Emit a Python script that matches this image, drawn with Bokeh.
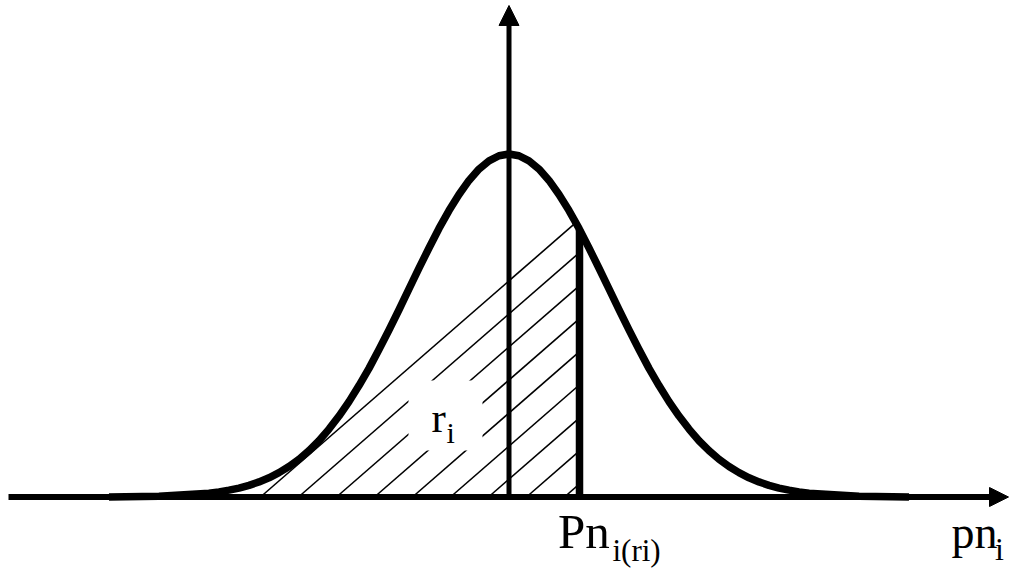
import numpy as np
from bokeh.plotting import figure
from bokeh.models import Range1d, Arrow, NormalHead
from bokeh.core.properties import value
from bokeh.embed import file_html
from bokeh.resources import INLINE

# ---- data (x in sigma units, y relative to peak) ----
curve_x = [-4.0, -3.5, -3.0, -2.9, -2.8, -2.7, -2.6, -2.5, -2.4, -2.3, -2.2, -2.1,
           -2.0, -1.9, -1.8, -1.7, -1.6, -1.5, -1.4, -1.3, -1.2, -1.1, -1.0, -0.9,
           -0.8, -0.7, -0.6, -0.5, -0.4, -0.3, -0.2, -0.1, 0.0,
           0.1, 0.2, 0.3, 0.4, 0.5, 0.6, 0.7, 0.8, 0.9, 1.0, 1.1, 1.2, 1.3, 1.4,
           1.5, 1.6, 1.7, 1.8, 1.9, 2.0, 2.1, 2.2, 2.3, 2.4, 2.5, 2.6, 2.7, 2.8,
           2.9, 3.0, 3.5, 4.0]
curve_y = [0.000, 0.002, 0.011, 0.015, 0.020, 0.026, 0.034, 0.044, 0.056, 0.071, 0.089, 0.110,
           0.135, 0.164, 0.198, 0.236, 0.278, 0.325, 0.375, 0.430, 0.487, 0.546, 0.607, 0.667,
           0.726, 0.783, 0.835, 0.882, 0.923, 0.956, 0.980, 0.995, 1.000,
           0.995, 0.980, 0.956, 0.923, 0.882, 0.835, 0.783, 0.726, 0.667, 0.607, 0.546, 0.487,
           0.430, 0.375, 0.325, 0.278, 0.236, 0.198, 0.164, 0.135, 0.110, 0.089, 0.071, 0.056,
           0.044, 0.034, 0.026, 0.020, 0.015, 0.011, 0.002, 0.000]
pn_position = 0.705
label_main = ["Pn", "pn", "r"]
label_sub = ["i(ri)", "i", "i"]

# ---- layout ----
W, H = 1013, 573
X0, X1 = -5.085, 5.045
Y0, Y1 = -0.22303, 1.44752

p = figure(width=W, height=H, x_range=Range1d(X0, X1), y_range=Range1d(Y0, Y1),
           x_axis_type=None, y_axis_type=None, toolbar_location=None,
           output_backend="svg", min_border=0, outline_line_color=None,
           background_fill_color="white", border_fill_color="white")

px_x = W / (X1 - X0)
px_y = H / (Y1 - Y0)
slope = 0.87 * px_x / px_y
pn_h = float(np.interp(pn_position, curve_x, curve_y))

# hatch lines under the curve, left of Pn
hx0, hy0, hx1, hy1 = [], [], [], []
for s in np.arange(-2.485, pn_position, 0.38):
    g = np.linspace(s, pn_position, 4000)
    c = np.interp(g, curve_x, curve_y)
    l = slope * (g - s)
    idx = np.nonzero(l >= c)[0]
    xe = g[idx[0]] if len(idx) else pn_position
    hx0.append(s); hy0.append(0.0)
    hx1.append(xe); hy1.append(slope * (xe - s))
p.segment(hx0, hy0, hx1, hy1, line_color="black", line_width=1.6)

# clear box behind r_i
p.quad(left=[-1.005], right=[-0.265], bottom=[0.1356], top=[0.3397],
       fill_color="white", line_color=None)

# curve
p.line(curve_x, curve_y, line_color="black", line_width=7.5, line_join="round")

# Pn vertical
p.segment([pn_position], [0.0], [pn_position], [pn_h], line_color="black",
          line_width=7.5, line_cap="butt")

# axes arrows
p.add_layout(Arrow(x_start=0.0, y_start=0.0, x_end=0.0, y_end=1.433,
                   line_color="black", line_width=5,
                   end=NormalHead(size=20, fill_color="black", line_color="black", line_width=1)))
p.add_layout(Arrow(x_start=-5.005, y_start=0.0, x_end=4.995, y_end=0.0,
                   line_color="black", line_width=6,
                   end=NormalHead(size=19, fill_color="black", line_color="black", line_width=1)))

# labels
font = value("Liberation Serif")
main_x = [0.49, 4.425, -0.775]
main_y = [-0.1501, -0.1501, 0.1889]
main_size = [49, 46, 43]
sub_x = [1.035, 4.86, -0.625]
sub_y = [-0.1880, -0.1851, 0.156]
sub_size = [31, 32, 30]
for i in range(3):
    p.text(x=[main_x[i]], y=[main_y[i] + 0.35 * main_size[i] / px_y], text=[label_main[i]],
           text_font=font, text_font_size=f"{main_size[i]}px", text_baseline="alphabetic",
           text_align="left", text_color="black")
    p.text(x=[sub_x[i]], y=[sub_y[i] + 0.35 * sub_size[i] / px_y], text=[label_sub[i]],
           text_font=font, text_font_size=f"{sub_size[i]}px", text_baseline="alphabetic",
           text_align="left", text_color="black")

open("out.html", "w").write(file_html(p, INLINE))
